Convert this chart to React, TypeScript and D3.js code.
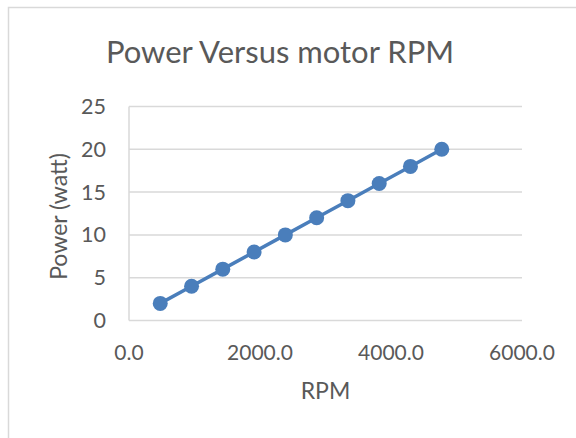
import React, { useEffect, useRef } from "react";
import * as d3 from "d3";

const rpm = [477, 955, 1432, 1910, 2387, 2865, 3342, 3820, 4297, 4775];
const power = [2, 4, 6, 8, 10, 12, 14, 16, 18, 20];
const xTicks = [0, 2000, 4000, 6000];
const yTicks = [0, 5, 10, 15, 20, 25];

const App = () => {
  const svgRef = useRef<SVGSVGElement>(null);

  useEffect(() => {
    const width = 576;
    const height = 438;
    const margin = { top: 106.5, right: 54, bottom: 117.5, left: 129 };
    const font = "Lato, Carlito, Calibri, sans-serif";
    const textColor = "#595959";
    const gridColor = "#d9d9d9";
    const blue = "#4a7ebb";

    const svg = d3.select(svgRef.current);
    svg.selectAll("*").remove();
    svg.attr("width", width).attr("height", height);

    svg.append("rect").attr("width", width).attr("height", height).attr("fill", "#fff");
    // chart border
    svg.append("rect")
      .attr("x", 8.5).attr("y", 7.5)
      .attr("width", width + 20).attr("height", height + 20)
      .attr("fill", "#fff").attr("stroke", gridColor).attr("stroke-width", 1.5);

    const x = d3.scaleLinear().domain([0, 6000]).range([margin.left, width - margin.right]);
    const y = d3.scaleLinear().domain([0, 25]).range([height - margin.bottom, margin.top]);

    svg.append("g").selectAll("line")
      .data(yTicks)
      .join("line")
      .attr("x1", x(0)).attr("x2", x(6000))
      .attr("y1", (d) => y(d)).attr("y2", (d) => y(d))
      .attr("stroke", gridColor).attr("stroke-width", 1.5);

    svg.append("line")
      .attr("x1", x(0)).attr("x2", x(0))
      .attr("y1", y(0)).attr("y2", y(25))
      .attr("stroke", gridColor).attr("stroke-width", 1.5);

    svg.append("g").selectAll("text")
      .data(yTicks)
      .join("text")
      .attr("x", 106)
      .attr("y", (d) => y(d))
      .attr("dy", "0.35em")
      .attr("text-anchor", "end")
      .attr("font-family", font).attr("font-size", 21.5).attr("fill", textColor)
      .text((d) => d);

    svg.append("g").selectAll("text")
      .data(xTicks)
      .join("text")
      .attr("x", (d) => x(d))
      .attr("y", 360)
      .attr("text-anchor", "middle")
      .attr("font-family", font).attr("font-size", 21).attr("fill", textColor)
      .text((d) => d3.format(".1f")(d));

    const line = d3.line<number>()
      .x((d, i) => x(rpm[i]))
      .y((d) => y(d));

    svg.append("path")
      .datum(power)
      .attr("d", line)
      .attr("fill", "none")
      .attr("stroke", blue).attr("stroke-width", 3.5)
      .attr("stroke-linejoin", "round");

    svg.append("g").selectAll("circle")
      .data(power)
      .join("circle")
      .attr("cx", (d, i) => x(rpm[i]))
      .attr("cy", (d) => y(d))
      .attr("r", 7.5)
      .attr("fill", blue);

    svg.append("text")
      .attr("x", 280).attr("y", 63)
      .attr("text-anchor", "middle")
      .attr("font-family", font).attr("font-size", 31).attr("fill", textColor)
      .text("Power Versus motor RPM");

    svg.append("text")
      .attr("x", (x(0) + x(6000)) / 2).attr("y", 399)
      .attr("text-anchor", "middle")
      .attr("font-family", font).attr("font-size", 23).attr("fill", textColor)
      .text("RPM");

    svg.append("text")
      .attr("transform", `translate(67,${(y(0) + y(25)) / 2 + 3}) rotate(-90)`)
      .attr("text-anchor", "middle")
      .attr("font-family", font).attr("font-size", 23).attr("fill", textColor)
      .text("Power (watt)");
  }, []);

  return <svg ref={svgRef} style={{ position: "absolute", left: 0, top: 0 }}></svg>;
};

export default App;
